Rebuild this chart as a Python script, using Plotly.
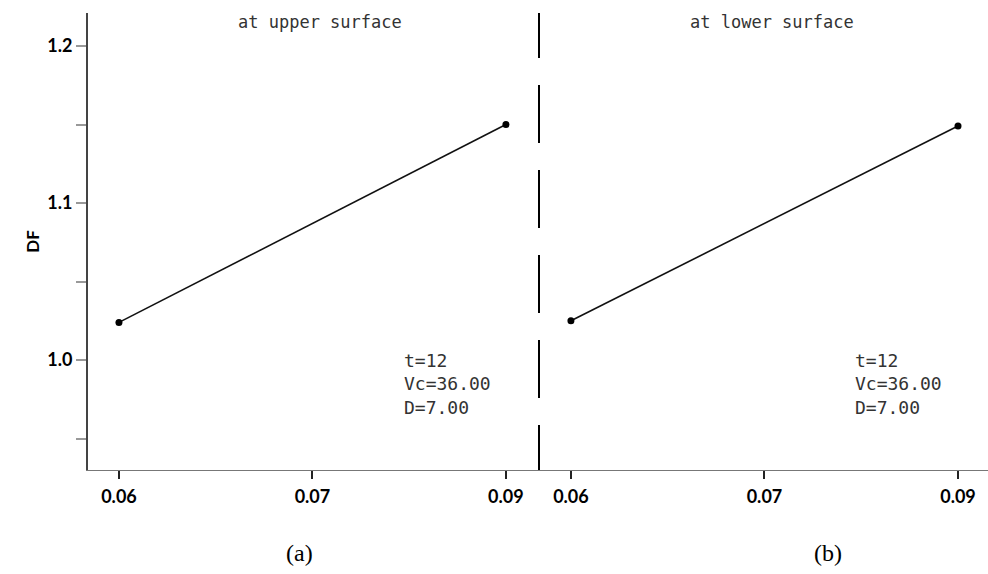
import plotly.graph_objects as go
from plotly.subplots import make_subplots

# Tick categories along the horizontal axis
x_categories = ["0.06", "0.07", "0.09"]
# Sampled positions and DF values for each surface
x_points = ["0.06", "0.09"]
df_upper = [1.024, 1.150]
df_lower = [1.025, 1.149]

y_tickvals = [0.95, 1.00, 1.05, 1.10, 1.15, 1.20]
y_ticktext = ["", "1.0", "", "1.1", "", "1.2"]

panel_titles = ["at upper surface", "at lower surface"]
panel_tags = ["(a)", "(b)"]
params_text = "t=12<br>Vc=36.00<br>D=7.00"

W, H = 988, 574
left_px, split_px, right_px = 88, 539, 988
top_px, bottom_px = 13, 470

fig = make_subplots(rows=1, cols=2, horizontal_spacing=0)

line_style = dict(color="#111111", width=1.6)
marker_style = dict(color="#000000", size=7)
for col, vals in ((1, df_upper), (2, df_lower)):
    fig.add_trace(
        go.Scatter(x=x_points, y=vals, mode="lines+markers",
                   line=line_style, marker=marker_style, showlegend=False),
        row=1, col=col,
    )

tick_font = dict(family="Lato", size=18, color="#000000", weight="bold")
ydom = [1 - bottom_px / H, 1 - top_px / H]
yrange = [0.93, 1.221]

fig.update_layout(
    width=W, height=H,
    margin=dict(l=0, r=0, t=0, b=0),
    paper_bgcolor="white", plot_bgcolor="white",
    xaxis=dict(domain=[left_px / W, split_px / W], type="category",
               categoryorder="array", categoryarray=x_categories,
               range=[-0.160, 2.171], showgrid=False, zeroline=False,
               showline=True, linecolor="#777777", linewidth=1,
               ticks="outside", ticklen=8, tickwidth=2, tickcolor="#222222",
               tickfont=tick_font, ticklabelstandoff=2),
    xaxis2=dict(domain=[split_px / W, right_px / W], type="category",
                categoryorder="array", categoryarray=x_categories,
                range=[-0.165, 2.155], showgrid=False, zeroline=False,
                showline=True, linecolor="#777777", linewidth=1,
                ticks="outside", ticklen=8, tickwidth=2, tickcolor="#222222",
                tickfont=tick_font, ticklabelstandoff=2),
    yaxis=dict(domain=ydom, range=yrange, showgrid=False, zeroline=False,
               showline=True, linecolor="#444444", linewidth=2,
               ticks="outside", ticklen=10, tickwidth=2, tickcolor="#999999",
               tickvals=y_tickvals, ticktext=y_ticktext,
               tickfont=tick_font,
               title=dict(text="DF",
                          font=dict(family="Lato", size=17, color="#000000", weight="bold"),
                          standoff=3)),
    yaxis2=dict(domain=ydom, range=yrange, matches="y", showgrid=False,
                zeroline=False, showline=False, showticklabels=False, ticks=""),
)

# Dashed separator between the two panels: short leading dash, then a regular pattern
sep_x = split_px / W
fig.add_shape(type="line", xref="paper", yref="paper",
              x0=sep_x, x1=sep_x, y0=1 - top_px / H, y1=1 - 58 / H,
              line=dict(color="#000000", width=2))
fig.add_shape(type="line", xref="paper", yref="paper",
              x0=sep_x, x1=sep_x, y0=1 - 85 / H, y1=ydom[0],
              line=dict(color="#000000", width=2, dash="58px,27px"))

mono = dict(family="DejaVu Sans Mono", color="#333333")
for i, (xref, title) in enumerate((("x domain", panel_titles[0]), ("x2 domain", panel_titles[1]))):
    fig.add_annotation(text=title, xref=xref, yref="paper",
                       x=[0.515, 0.52][i], y=1 - 22 / H, showarrow=False,
                       xanchor="center", yanchor="middle",
                       font=dict(size=17, **mono))
    fig.add_annotation(text=params_text, xref=xref, yref="paper",
                       x=[(402 - left_px) / (split_px - left_px),
                          (853 - split_px) / (right_px - split_px)][i],
                       y=1 - 348 / H, showarrow=False, align="left",
                       xanchor="left", yanchor="top",
                       font=dict(size=18, **mono))

for tag, xc in zip(panel_tags, (299, 828)):
    fig.add_annotation(text=tag, xref="paper", yref="paper",
                       x=xc / W, y=1 - 553 / H, showarrow=False,
                       xanchor="center", yanchor="middle",
                       font=dict(family="Liberation Serif", size=24, color="#000000"))

fig.write_html("out.html")
